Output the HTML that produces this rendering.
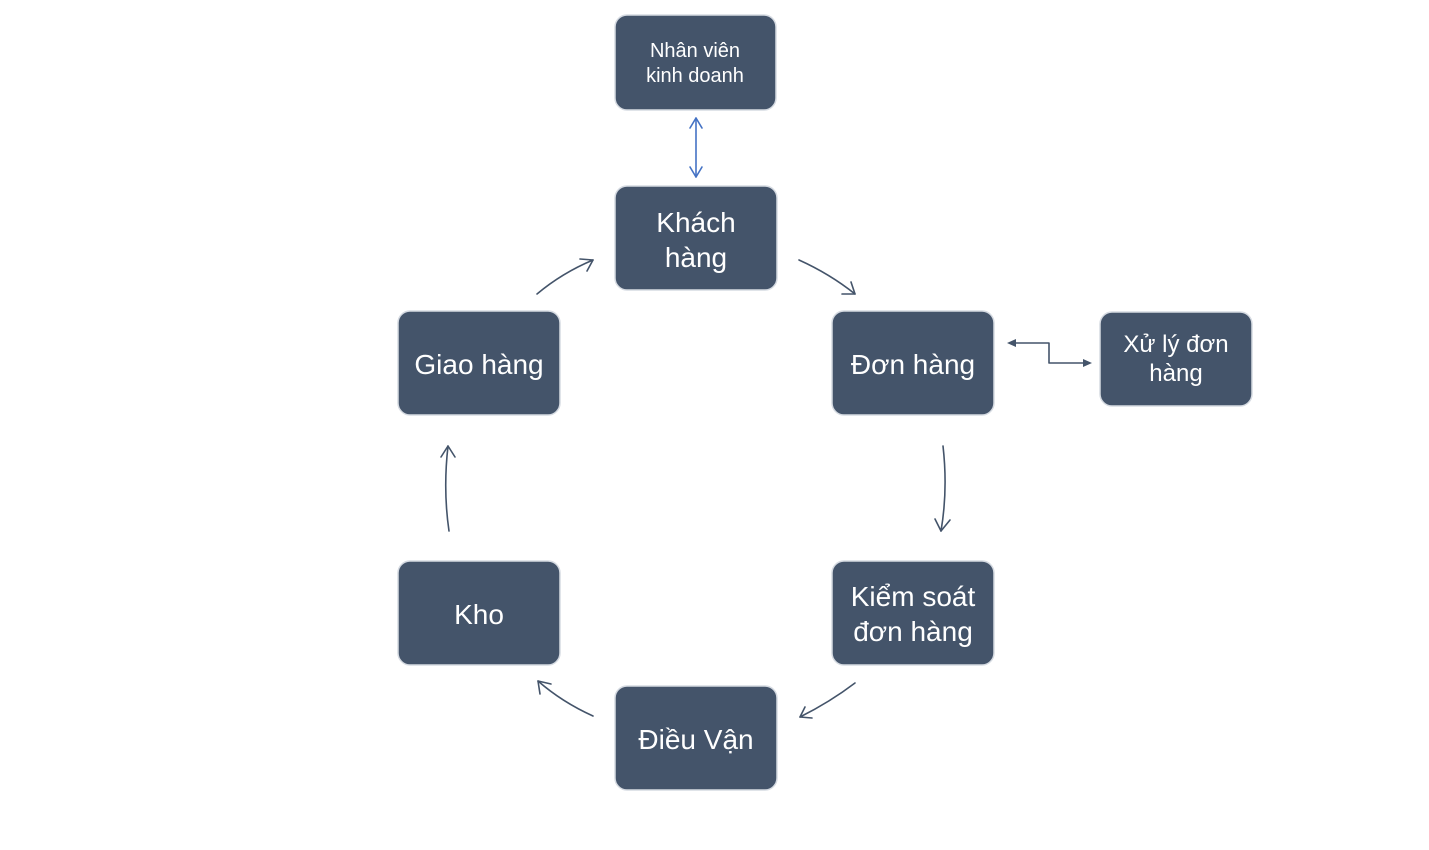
<!DOCTYPE html>
<html><head><meta charset="utf-8"><style>
body{margin:0;background:#fff;}
svg text{font-family:"Liberation Sans",sans-serif;fill:#fff;text-anchor:middle;}
</style></head><body>
<svg width="1429" height="845" viewBox="0 0 1429 845" xmlns="http://www.w3.org/2000/svg">
<g fill="#44546a" stroke="#d6dbe2" stroke-width="1.5">
<rect x="615" y="15" width="161" height="95" rx="12"/>
<rect x="615" y="186" width="162" height="104" rx="12"/>
<rect x="832" y="311" width="162" height="104" rx="12"/>
<rect x="1100" y="312" width="152" height="94" rx="12"/>
<rect x="398" y="311" width="162" height="104" rx="12"/>
<rect x="398" y="561" width="162" height="104" rx="12"/>
<rect x="832" y="561" width="162" height="104" rx="12"/>
<rect x="615" y="686" width="162" height="104" rx="12"/>
</g>
<text x="695" y="57" font-size="20">Nhân viên</text>
<text x="695" y="82" font-size="20">kinh doanh</text>
<text x="696" y="232" font-size="28">Khách</text>
<text x="696" y="267" font-size="28">hàng</text>
<text x="913" y="374" font-size="28">Đơn hàng</text>
<text x="1176" y="352" font-size="24">Xử lý đơn</text>
<text x="1176" y="381" font-size="24">hàng</text>
<text x="479" y="374" font-size="28">Giao hàng</text>
<text x="479" y="624" font-size="28">Kho</text>
<text x="913" y="606" font-size="28">Kiểm soát</text>
<text x="913" y="641" font-size="28">đơn hàng</text>
<text x="696" y="749" font-size="28">Điều Vận</text>
<g fill="none" stroke-width="1.6" stroke-linecap="round" stroke-linejoin="round">
<g stroke="#4472c4">
<line x1="696" y1="118" x2="696" y2="177"/>
<polyline points="690,128 696,118 702,128"/>
<polyline points="690,167 696,177 702,167"/>
</g>
<g stroke="#44546a">
<path d="M799,260 Q830,274 855,294"/><polyline points="842,294 855,294 851,282"/>
<path d="M943,446 Q948,490 941,531"/><polyline points="935,519 941,531 950,520"/>
<path d="M855,683 Q830,702 800,717"/><polyline points="805,707 800,717 812,718"/>
<path d="M593,716 Q562,702 538,681"/><polyline points="540,694 538,681 551,684"/>
<path d="M449,531 Q443,490 448,446"/><polyline points="441,457 448,446 455,457"/>
<path d="M537,294 Q562,273 593,260"/><polyline points="580,259 593,260 587,271"/>
<polyline points="1010,343 1049,343 1049,363 1088,363"/>
</g>
</g>
<polygon points="1007,343 1016,339 1016,347" fill="#44546a"/>
<polygon points="1092,363 1083,359 1083,367" fill="#44546a"/>
</svg>
</body></html>
